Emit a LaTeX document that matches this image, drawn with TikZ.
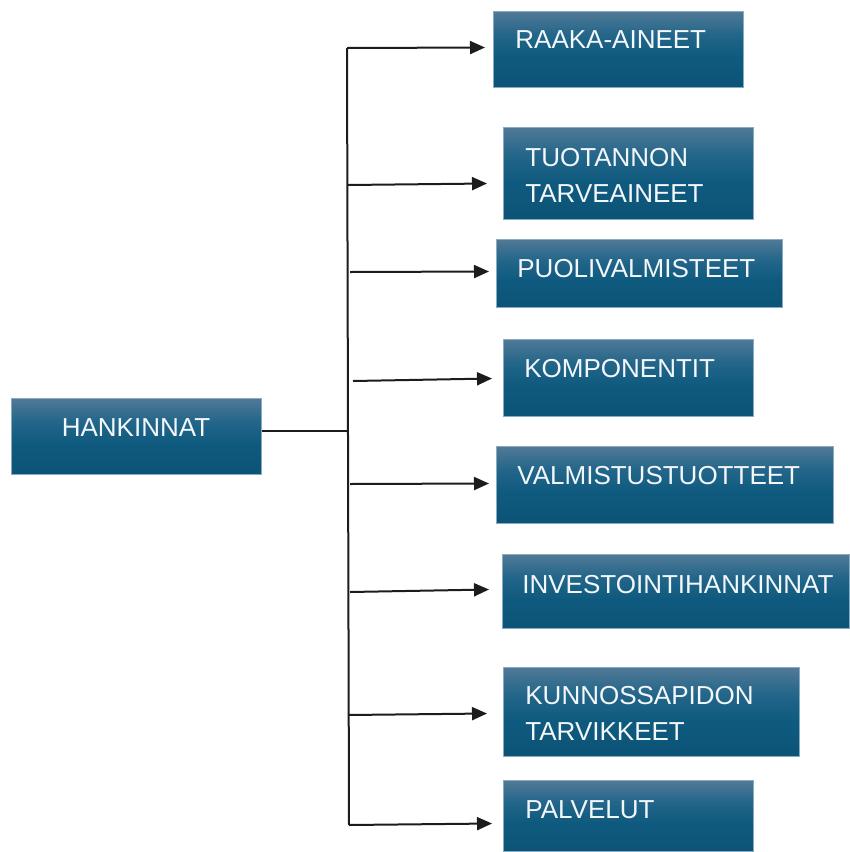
\documentclass[tikz,border=0pt]{standalone}
\usepackage{fontspec}
\setmainfont{Liberation Sans}
\usetikzlibrary{arrows.meta}

\definecolor{boxtop}{HTML}{517996}
\definecolor{boxmid}{HTML}{23668A}
\definecolor{boxbot}{HTML}{0E5A7E}
\definecolor{boxlow}{HTML}{0C5477}
\definecolor{boxedge}{HTML}{86ABC2}
\definecolor{wirecol}{HTML}{1C1C1C}
\definecolor{lbltext}{HTML}{F3F7FA}

% vertical fill: light band at the top fading into the deep blue body
\pgfdeclareverticalshading{boxshade}{100bp}{%
  color(0bp)=(boxlow); color(25bp)=(boxlow); color(45bp)=(boxbot);
  color(60bp)=(boxmid); color(75bp)=(boxtop); color(100bp)=(boxtop)}

\tikzset{
  box/.style={draw=boxedge, line width=0.5pt, shade, shading=boxshade,
              anchor=north west, inner sep=0pt},
  lbl/.style={text=lbltext, font=\fontsize{13}{16}\selectfont,
              anchor=base west, inner sep=0pt},
  wire/.style={draw=wirecol, line width=1pt},
  arr/.style={wire, -{Triangle[length=7.5pt,width=6.5pt]}},
}

\begin{document}
\begin{tikzpicture}[x=0.5pt, y=-0.5pt]
\useasboundingbox (0,0) rectangle (850,852);

% boxes
\node[box, minimum width=125pt, minimum height=38pt]   (hank)  at (11,398)  {};
\node[box, minimum width=125pt, minimum height=38pt]   (raaka) at (493,11)  {};
\node[box, minimum width=125pt, minimum height=46pt]   (tuot)  at (503,127) {};
\node[box, minimum width=143pt, minimum height=34pt]   (puoli) at (496,239) {};
\node[box, minimum width=125pt, minimum height=38.5pt] (komp)  at (503,339) {};
\node[box, minimum width=168.5pt, minimum height=38.5pt] (valm) at (496,446) {};
\node[box, minimum width=173.5pt, minimum height=37pt] (inv)   at (502,554) {};
\node[box, minimum width=148pt, minimum height=44.5pt] (kunn)  at (503,667) {};
\node[box, minimum width=125pt, minimum height=35.5pt] (palv)  at (503,780) {};

% labels
\node[lbl, anchor=base] (hankT) at (136,436) {HANKINNAT};
\node[lbl] (raakaT) at (515,48)  {RAAKA-AINEET};
\node[lbl] (tuotT1) at (525,166) {TUOTANNON};
\node[lbl] (tuotT2) at (525,202) {TARVEAINEET};
\node[lbl] (puoliT) at (517,277) {PUOLIVALMISTEET};
\node[lbl] (kompT)  at (524,377) {KOMPONENTIT};
\node[lbl] (valmT)  at (517,484) {VALMISTUSTUOTTEET};
\node[lbl] (invT)   at (522,593) {INVESTOINTIHANKINNAT};
\node[lbl] (kunnT1) at (525,704) {KUNNOSSAPIDON};
\node[lbl] (kunnT2) at (525,740) {TARVIKKEET};
\node[lbl] (palvT)  at (525,818) {PALVELUT};

% spine points
\coordinate (s1) at (347,48);
\coordinate (s8) at (349,825);
\coordinate (j)  at (348,431);
\coordinate (b2) at (348,185);
\coordinate (b3) at (350,272);
\coordinate (b4) at (353,381);
\coordinate (b5) at (350,484);
\coordinate (b6) at (350,592);
\coordinate (b7) at (348,715);

% trunk and spine
\draw[wire] (hank.east |- j) -- (j);
\draw[wire] (s1) -- (s8);

% branches
\draw[arr] (s1) -- ([shift={(-8,-2)}]raaka.west);
\draw[arr] (b2) -- ([shift={(-16,10)}]tuot.west);
\draw[arr] (b3) -- ([shift={(-7,-2)}]puoli.west);
\draw[arr] (b4) -- ([shift={(-11,0.5)}]komp.west);
\draw[arr] (b5) -- ([shift={(-7,-1.5)}]valm.west);
\draw[arr] (b6) -- ([shift={(-13,-2)}]inv.west);
\draw[arr] (b7) -- ([shift={(-16,1.5)}]kunn.west);
\draw[arr] (s8) -- ([shift={(-11,7.5)}]palv.west);
\end{tikzpicture}
\end{document}
